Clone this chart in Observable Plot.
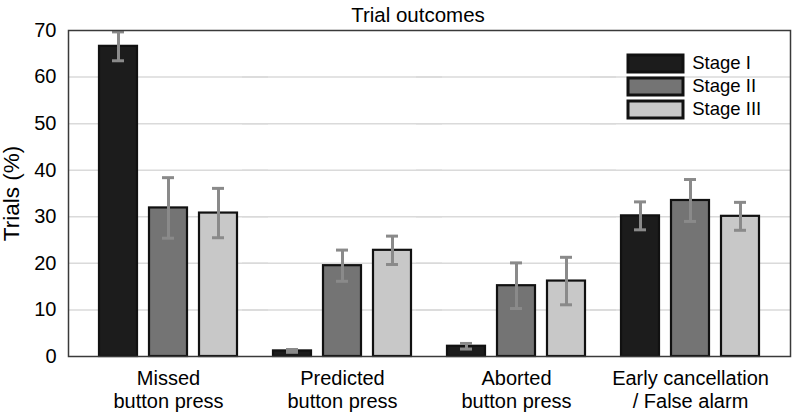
<!DOCTYPE html>
<html>
<head>
<meta charset="utf-8">
<script src="https://cdn.jsdelivr.net/npm/d3@7"></script>
<script src="https://cdn.jsdelivr.net/npm/@observablehq/plot@0.6"></script>
<style>
  html, body { margin: 0; padding: 0; background: #fff; }
  #wrap { position: relative; width: 793px; height: 413px; overflow: hidden; font-family: 'Liberation Sans', Arial, sans-serif; }
  #title { position: absolute; left: 0; width: 836px; top: 5px; text-align: center; font-size: 20.5px; line-height: 20px; color: #000; }
  #legend { position: absolute; left: 628px; top: 52px; }
  #legend svg rect { stroke: #111; stroke-width: 3px; }
</style>
</head>
<body>
<div id="wrap">
  <div id="chart"></div>
  <div id="title">Trial outcomes</div>
  <div id="legend"></div>
</div>
<script>
const categories = ["Missed\nbutton press", "Predicted\nbutton press", "Aborted\nbutton press", "Early cancellation\n/ False alarm"];
const stages = ["Stage I", "Stage II", "Stage III"];
const stageColors = ["#1c1c1c", "#747474", "#c8c8c8"];
const stageI = [66.6, 1.2, 2.2, 30.2];
const stageII = [31.9, 19.5, 15.2, 33.5];
const stageIII = [30.8, 22.8, 16.2, 30.1];
const errI = [3.1, 0.3, 0.6, 3.0];
const errII = [6.5, 3.35, 4.9, 4.5];
const errIII = [5.3, 3.05, 5.1, 3.0];
const yTicks = [0, 10, 20, 30, 40, 50, 60, 70];
const gridTicks = [10, 20, 30, 40, 50, 60];

const seriesVals = [stageI, stageII, stageIII];
const seriesErr = [errI, errII, errIII];
const rows = [];
categories.forEach((cat, i) => {
  stages.forEach((st, j) => {
    rows.push({cat, stage: st, value: seriesVals[j][i], err: seriesErr[j][i]});
  });
});

const font = "'Liberation Sans', Arial, sans-serif";
const errColor = "#8a8a8a";

const plot = Plot.plot({
  width: 793,
  height: 413,
  marginLeft: 67,
  marginRight: 3,
  marginTop: 30,
  marginBottom: 57,
  style: {fontFamily: font, background: "white", color: "#000", overflow: "visible"},
  // facets overlap slightly so that the outer gap at the frame edges is wider than the gap between groups
  fx: {domain: categories, paddingInner: -0.148, paddingOuter: 0, label: null},
  x: {domain: stages, paddingInner: 0.24, paddingOuter: 0.62, axis: null},
  y: {domain: [0, 70]},
  color: {domain: stages, range: stageColors},
  marks: [
    Plot.gridY(gridTicks, {stroke: "#dadada", strokeOpacity: 1, strokeWidth: 1.5}),
    Plot.barY(rows, {fx: "cat", x: "stage", y: "value", fill: "stage", stroke: "#111", strokeWidth: 2.2}),
    Plot.ruleX(rows, {fx: "cat", x: "stage", y1: d => d.value - d.err, y2: d => d.value + d.err, stroke: errColor, strokeWidth: 3}),
    Plot.tickY(rows, {fx: "cat", x: "stage", y: d => d.value - d.err, insetLeft: 13, insetRight: 13, stroke: errColor, strokeWidth: 3}),
    Plot.tickY(rows, {fx: "cat", x: "stage", y: d => d.value + d.err, insetLeft: 13, insetRight: 13, stroke: errColor, strokeWidth: 3}),
    Plot.frame({facet: "super", stroke: "#3a3a3a", strokeWidth: 1.5}),
    Plot.axisY({ticks: yTicks, tickSize: 0, tickPadding: 12, fontSize: 20, label: null}),
    Plot.axisY({ticks: [], tickSize: 0, label: "Trials (%)", labelAnchor: "center", labelArrow: "none", labelOffset: 65, fontSize: 22.5}),
    Plot.axisFx({anchor: "bottom", tickSize: 0, tickPadding: 13, fontSize: 20, lineHeight: 1.12, label: null})
  ]
});
document.getElementById("chart").appendChild(plot);

const legend = plot.legend("color", {
  legend: "swatches",
  columns: 1,
  swatchWidth: 55,
  swatchHeight: 17,
  style: {fontSize: "18.5px", fontFamily: font, color: "#000", margin: "0"}
});
document.getElementById("legend").appendChild(legend);
</script>
</body>
</html>
